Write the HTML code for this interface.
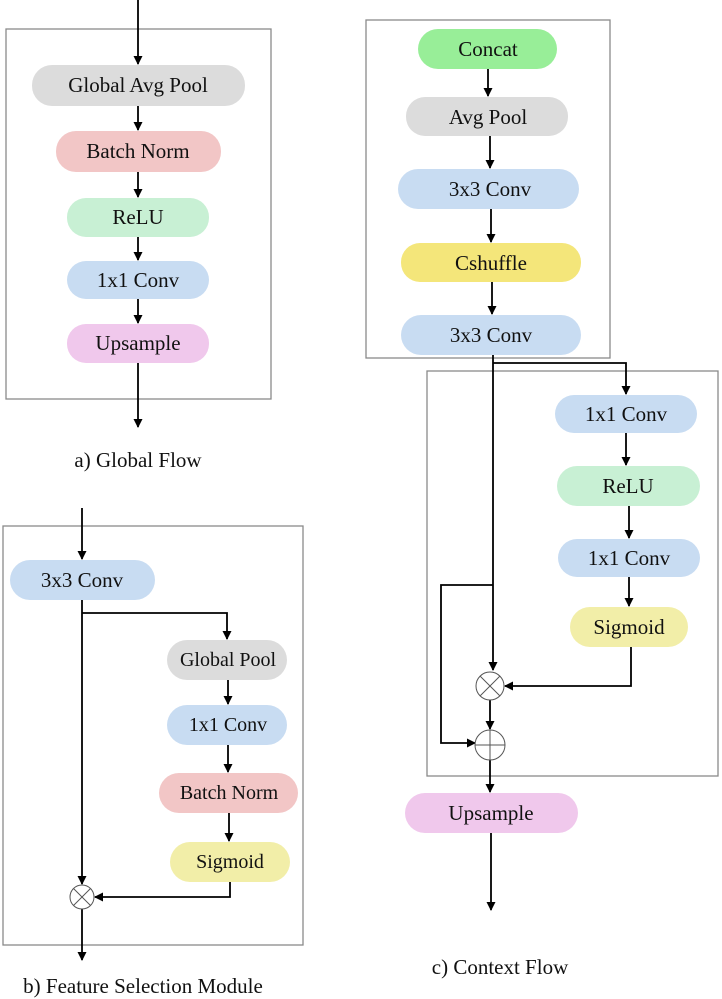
<!DOCTYPE html>
<html><head><meta charset="utf-8"><style>
html,body{margin:0;padding:0;background:#fff;}
svg{display:block;}
text{font-family:"Liberation Serif",serif;font-size:21px;fill:#111;text-anchor:middle;dominant-baseline:central;}
</style></head><body>
<svg width="722" height="999" viewBox="0 0 722 999" xmlns="http://www.w3.org/2000/svg">
<defs>
<marker id="ah" markerWidth="9" markerHeight="9" refX="8" refY="4.5" orient="auto" markerUnits="userSpaceOnUse">
<path d="M0,0 L9,4.5 L0,9 z" fill="#000"/></marker>
</defs>
<g fill="none" stroke="#8a8a8a" stroke-width="1.3">
<rect x="6" y="29" width="265" height="370"/>
<rect x="3" y="526" width="300" height="419"/>
<rect x="366" y="20" width="244" height="338"/>
<rect x="427" y="371" width="291" height="405"/>
</g>
<!-- Panel a -->
<g stroke="#000" stroke-width="1.8" fill="none" marker-end="url(#ah)">
<line x1="138" y1="0" x2="138" y2="64"/>
<line x1="138" y1="106" x2="138" y2="130"/>
<line x1="138" y1="172" x2="138" y2="197"/>
<line x1="138" y1="237" x2="138" y2="260"/>
<line x1="138" y1="299" x2="138" y2="323"/>
<line x1="138" y1="363" x2="138" y2="427"/>
</g>
<rect x="32" y="65" width="213" height="41" rx="20" fill="#dcdcdc"/><text x="138" y="85">Global Avg Pool</text>
<rect x="56" y="131" width="165" height="41" rx="20" fill="#f2c6c6"/><text x="138" y="151">Batch Norm</text>
<rect x="67" y="198" width="142" height="39" rx="19" fill="#c8f0d4"/><text x="138" y="217">ReLU</text>
<rect x="67" y="261" width="142" height="38" rx="19" fill="#c8dcf2"/><text x="138" y="280">1x1 Conv</text>
<rect x="67" y="324" width="142" height="39" rx="19" fill="#f0c8ec"/><text x="138" y="343">Upsample</text>
<text x="138" y="460">a) Global Flow</text>
<!-- Panel b -->
<g stroke="#000" stroke-width="1.8" fill="none" marker-end="url(#ah)">
<line x1="82" y1="508" x2="82" y2="559"/>
<line x1="82" y1="600" x2="82" y2="884"/>
<polyline points="82,613 227,613 227,639"/>
<line x1="228" y1="680" x2="228" y2="704"/>
<line x1="228" y1="745" x2="228" y2="772"/>
<line x1="229" y1="813" x2="229" y2="841"/>
<polyline points="230,882 230,897 95,897"/>
<line x1="82" y1="909" x2="82" y2="960"/>
</g>
<rect x="10" y="560" width="145" height="40" rx="20" fill="#c8dcf2"/><text x="82" y="580">3x3 Conv</text>
<rect x="167" y="640" width="120" height="40" rx="20" fill="#dcdcdc"/><text x="228" y="660" style="font-size:20px">Global Pool</text>
<rect x="167" y="705" width="120" height="40" rx="20" fill="#c8dcf2"/><text x="228" y="725" style="font-size:20px">1x1 Conv</text>
<rect x="159" y="773" width="139" height="40" rx="20" fill="#f2c6c6"/><text x="229" y="793" style="font-size:20px">Batch Norm</text>
<rect x="170" y="842" width="120" height="40" rx="20" fill="#f2eea8"/><text x="230" y="862" style="font-size:20px">Sigmoid</text>
<g stroke="#555" stroke-width="1" fill="#fff"><circle cx="82" cy="897" r="12"/><line x1="73.5" y1="888.5" x2="90.5" y2="905.5"/><line x1="90.5" y1="888.5" x2="73.5" y2="905.5"/></g>
<text x="143" y="986">b) Feature Selection Module</text>
<!-- Panel c -->
<g stroke="#000" stroke-width="1.8" fill="none" marker-end="url(#ah)">
<line x1="488" y1="69" x2="488" y2="96"/>
<line x1="490" y1="136" x2="490" y2="168"/>
<line x1="491" y1="209" x2="491" y2="242"/>
<line x1="492" y1="282" x2="492" y2="314"/>
<polyline points="493,363 626,363 626,394"/>
<line x1="493" y1="355" x2="493" y2="670"/>
<line x1="626" y1="433" x2="626" y2="465"/>
<line x1="629" y1="506" x2="629" y2="538"/>
<line x1="629" y1="577" x2="629" y2="606"/>
<polyline points="631,647 631,686 505,686"/>
<polyline points="493,585 441,585 441,743 475,743"/>
<line x1="490" y1="700" x2="490" y2="729"/>
<line x1="490" y1="760" x2="490" y2="792"/>
<line x1="491" y1="833" x2="491" y2="910"/>
</g>
<rect x="418" y="29" width="139" height="40" rx="20" fill="#98ee98"/><text x="488" y="49">Concat</text>
<rect x="406" y="97" width="162" height="39" rx="19" fill="#dcdcdc"/><text x="488" y="117">Avg Pool</text>
<rect x="398" y="169" width="181" height="40" rx="20" fill="#c8dcf2"/><text x="490" y="189">3x3 Conv</text>
<rect x="401" y="243" width="180" height="39" rx="19" fill="#f4e67a"/><text x="491" y="263">Cshuffle</text>
<rect x="401" y="315" width="180" height="40" rx="20" fill="#c8dcf2"/><text x="491" y="335">3x3 Conv</text>
<rect x="555" y="395" width="142" height="38" rx="19" fill="#c8dcf2"/><text x="626" y="414">1x1 Conv</text>
<rect x="557" y="466" width="143" height="40" rx="20" fill="#c8f0d4"/><text x="628" y="486">ReLU</text>
<rect x="558" y="539" width="142" height="38" rx="19" fill="#c8dcf2"/><text x="629" y="558">1x1 Conv</text>
<rect x="570" y="607" width="118" height="40" rx="20" fill="#f2eea8"/><text x="629" y="627">Sigmoid</text>
<g stroke="#555" stroke-width="1" fill="#fff">
<circle cx="490" cy="686" r="14"/><line x1="480" y1="676" x2="500" y2="696"/><line x1="500" y1="676" x2="480" y2="696"/>
<circle cx="490" cy="745" r="15"/><line x1="475" y1="745" x2="505" y2="745"/><line x1="490" y1="730" x2="490" y2="760"/>
</g>
<rect x="405" y="793" width="173" height="40" rx="20" fill="#f0c8ec"/><text x="491" y="813">Upsample</text>
<text x="500" y="967">c) Context Flow</text>
</svg>
</body></html>
